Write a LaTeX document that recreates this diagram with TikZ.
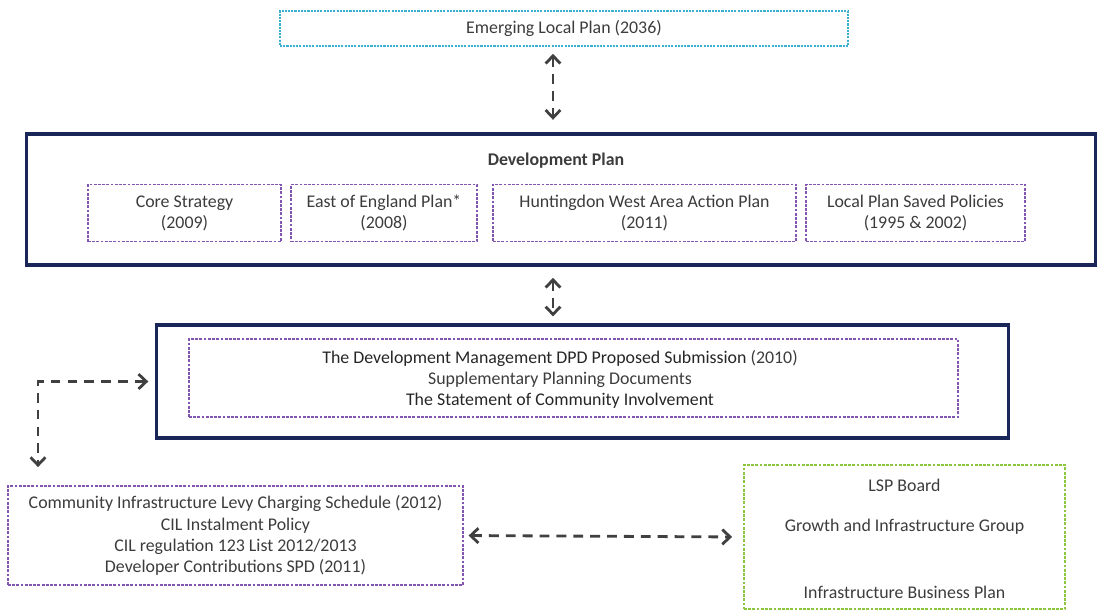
\documentclass[tikz,border=0pt]{standalone}
\usepackage{fontspec}
\setmainfont{Carlito}
\usepackage{tikz}
\usetikzlibrary{arrows.meta}
\definecolor{navy}{HTML}{1B2658}
\definecolor{plum}{HTML}{8155B0}
\definecolor{sky}{HTML}{3AAFCF}
\definecolor{leaf}{HTML}{8CC63F}
\definecolor{txt}{HTML}{3C3C3C}
\definecolor{arr}{HTML}{404040}

\begin{document}
\begin{tikzpicture}[x=0.025cm,y=-0.025cm,
  every node/.style={inner sep=0pt,text=txt,font=\fontsize{12.7}{15}\selectfont},
  frame/.style={draw=navy,line width=2.2pt},
  plan/.style={draw=plum,line width=0.9pt,dash pattern=on 2pt off 1pt,align=center},
  link/.style={draw=arr,line width=2pt,dash pattern=on 7pt off 5pt,
    {Straight Barb[length=5.5pt,width=10.5pt]}-{Straight Barb[length=5.5pt,width=10.5pt]}}]
\useasboundingbox (0,0) rectangle (1110,614);
\node [draw=sky,line width=1.1pt,dash pattern=on 1.5pt off 0.8pt,minimum width=14.2cm,minimum height=0.875cm] (emerging) at (564,28.5) {Emerging Local Plan (2036)};
\node [frame,minimum width=26.7cm,minimum height=3.275cm] (devplan) at (561,199.5) {};
\node (devtitle) at (556,161) {\bfseries Development Plan};
\node [plan,minimum width=4.825cm,minimum height=1.425cm] (core) at (184.5,213) {Core Strategy\\(2009)};
\node [plan,minimum width=4.65cm,minimum height=1.425cm] (east) at (384,213) {East of England Plan*\\(2008)};
\node [plan,minimum width=7.575cm,minimum height=1.425cm] (hunt) at (644.5,213) {Huntingdon West Area Action Plan\\(2011)};
\node [plan,minimum width=5.475cm,minimum height=1.425cm] (saved) at (915.5,213) {Local Plan Saved Policies\\(1995 \& 2002)};
\node [frame,minimum width=21.275cm,minimum height=2.825cm] (dm) at (582.5,381.5) {};
\node [plan,minimum width=19.225cm,minimum height=1.95cm] (dminner) at (573.5,378) {};
\node [align=center] (dmtext) at (560,379) {\textcolor{black!85}{The Development Management DPD Proposed Submission} (2010)\\Supplementary Planning Documents\\\textcolor{black!85}{The Statement of Community Involvement}};
\node [plan,minimum width=11.375cm,minimum height=2.475cm] (cil) at (235.5,535.5) {Community Infrastructure Levy Charging Schedule (2012)\\CIL Instalment Policy\\CIL regulation 123 List 2012/2013\\Developer Contributions SPD (2011)};
\node [draw=leaf,line width=0.9pt,dash pattern=on 2pt off 1pt,minimum width=8.025cm,minimum height=3.6cm] (lsp) at (904.5,537) {};
\node (board) at (904.5,485) {LSP Board};
\node (growth) at (904.5,527) {Growth and Infrastructure Group};
\node (ibp) at (904.5,592) {Infrastructure Business Plan};
\coordinate (axis) at (553,0);
\coordinate (elbow) at (38,0);
\draw [link,shorten <=5pt,shorten >=9pt] (emerging.south -| axis) -- (devplan.north -| axis);
\draw [link,shorten <=8pt,shorten >=5pt] (devplan.south -| axis) -- (dm.north -| axis);
\draw [link,shorten <=5pt,shorten >=13pt] (dm.west) -| (cil.north -| elbow);
\draw [link,shorten <=3.5pt,shorten >=8pt] (cil.east) -- (lsp.west);
\end{tikzpicture}
\end{document}
